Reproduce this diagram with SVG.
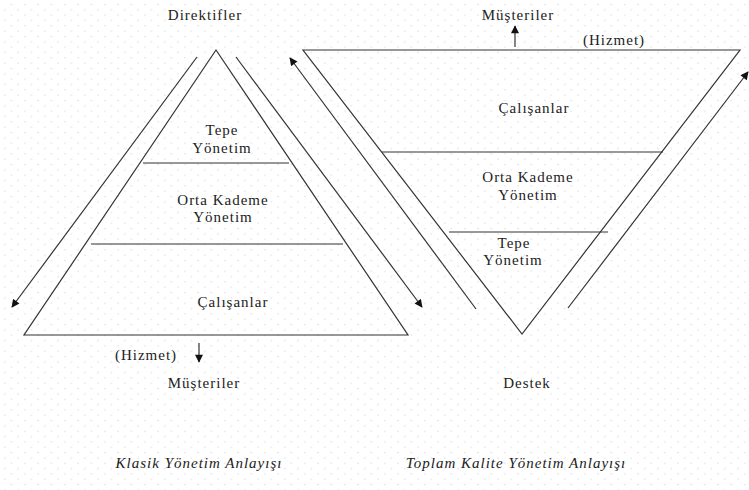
<svg xmlns="http://www.w3.org/2000/svg" width="749" height="490" viewBox="0 0 749 490">
  <style>
    .t { font-family: "Liberation Serif", "Times New Roman", serif; font-size: 15px; letter-spacing: 1px; fill: #222; text-anchor: middle; }
    .i { font-style: italic; }
    .edge { fill: none; stroke: #333; stroke-width: 1.2; }
    .flow { fill: none; stroke: #333; stroke-width: 1.2; marker-end: url(#head); }
  </style>
  <defs>
    <pattern id="dots" patternUnits="userSpaceOnUse" width="13.33" height="10.67">
      <rect x="11" y="4" width="1" height="1" fill="#c4c4c4"/>
      <rect x="4.3" y="9.3" width="1" height="1" fill="#c4c4c4"/>
    </pattern>
    <marker id="head" viewBox="0 0 10 10" refX="9" refY="5" markerWidth="9" markerHeight="8" markerUnits="userSpaceOnUse" orient="auto">
      <path d="M0,0 L10,5 L0,10 z" fill="#111"/>
    </marker>
  </defs>

  <rect width="749" height="490" fill="#fff"/>
  <rect width="749" height="490" fill="url(#dots)"/>

  <!-- Classic pyramid -->
  <g id="klasik-piramit">
    <polygon class="edge" points="216,50 24,335 408,335"/>
    <line class="edge" x1="143" y1="163" x2="289" y2="163"/>
    <line class="edge" x1="91" y1="244" x2="343" y2="244"/>
  </g>
  <g id="klasik-direktifler"><text class="t" x="205" y="20">Direktifler</text></g>
  <g id="klasik-tepe">
    <text class="t" x="222" y="135">Tepe</text>
    <text class="t" x="222" y="153">Yönetim</text>
  </g>
  <g id="klasik-orta">
    <text class="t" x="223" y="205">Orta Kademe</text>
    <text class="t" x="223" y="222">Yönetim</text>
  </g>
  <g id="klasik-calisanlar"><text class="t" x="233" y="307">Çalışanlar</text></g>
  <g id="klasik-hizmet"><text class="t" x="146" y="360">(Hizmet)</text></g>
  <g id="klasik-musteriler"><text class="t" x="204" y="388">Müşteriler</text></g>
  <g id="klasik-baslik"><text class="t i" x="199" y="468">Klasik Yönetim Anlayışı</text></g>

  <!-- Inverted (TQM) pyramid -->
  <g id="tky-piramit">
    <polygon class="edge" points="303,50 740,50 522,334"/>
    <line class="edge" x1="382" y1="152" x2="663" y2="152"/>
    <line class="edge" x1="449" y1="232" x2="608" y2="232"/>
  </g>
  <g id="tky-musteriler"><text class="t" x="518" y="20">Müşteriler</text></g>
  <g id="tky-hizmet"><text class="t" x="614" y="45">(Hizmet)</text></g>
  <g id="tky-calisanlar"><text class="t" x="534" y="113">Çalışanlar</text></g>
  <g id="tky-orta">
    <text class="t" x="528" y="182">Orta Kademe</text>
    <text class="t" x="528" y="200">Yönetim</text>
  </g>
  <g id="tky-tepe">
    <text class="t" x="514" y="248">Tepe</text>
    <text class="t" x="513" y="265">Yönetim</text>
  </g>
  <g id="tky-destek"><text class="t" x="527" y="388">Destek</text></g>
  <g id="tky-baslik"><text class="t i" x="516" y="468">Toplam Kalite Yönetim Anlayışı</text></g>

  <!-- Connectors -->
  <g id="connectors">
    <line class="flow" x1="197" y1="57" x2="12" y2="307"/>
    <line class="flow" x1="236" y1="57" x2="422" y2="307"/>
    <line class="flow" x1="199" y1="343" x2="199" y2="362"/>
    <line class="flow" x1="476" y1="309" x2="290" y2="58"/>
    <line class="flow" x1="568" y1="308" x2="748" y2="72"/>
    <line class="flow" x1="515" y1="47" x2="515" y2="26"/>
  </g>
</svg>
